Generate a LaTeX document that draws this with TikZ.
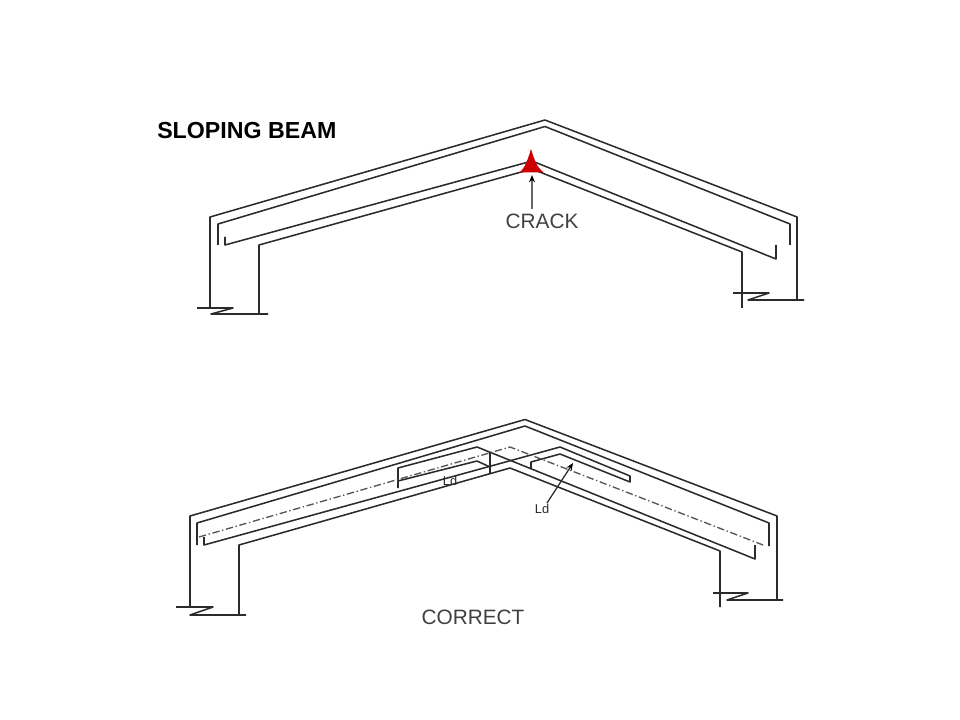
\documentclass[tikz,border=0pt]{standalone}
\usepackage{fontspec}
\setmainfont{Liberation Sans}
\usetikzlibrary{arrows.meta}
\definecolor{ink}{HTML}{2B2B2B}
\definecolor{txt}{HTML}{404040}
\tikzset{
  frameline/.style={draw=ink,line width=1.15pt,line join=round},
  centreline/.style={draw=ink!80,line width=1pt,dash pattern=on 5.5pt off 2pt on 1pt off 2pt},
  pointer/.style={draw=#1,line width=0.95pt,-{Stealth[length=5.5pt,width=4.5pt,color=black]}},
  label/.style={inner sep=0pt,text=txt,font=\fontsize{15.6}{18}\selectfont},
  smalllabel/.style={inner sep=0pt,text=ink,font=\fontsize{9.6}{11}\selectfont}
}
\begin{document}
\begin{tikzpicture}[x=0.75pt,y=-0.75pt]
\useasboundingbox (0,0) rectangle (960,720);
\fill[white] (0,0) rectangle (960,720);
% upper frame
\draw[frameline] (210,308) -- (210,217) -- (545,120) -- (797,217) -- (797,300);
\draw[frameline] (218,245) -- (218,224) -- (545,126.5) -- (790,224) -- (790,245);
\draw[frameline] (225,237) -- (225,245) -- (532,161) -- (776,259) -- (776,245);
\draw[frameline] (259,314) -- (259,245) -- (532,169) -- (742,252) -- (742,308);
\draw[frameline] (197,308) -- (233,308) -- (211,314) -- (268,314);
\draw[frameline] (733,293) -- (769,293) -- (748,300) -- (804,300);
\fill[red!80!black] (531,149) .. controls (534,159) and (537,168) .. (544,172.5) -- (519.5,172.5) .. controls (525,168) and (528,159) .. (531,149) -- cycle;
\coordinate (crackfoot) at (532,209);
\coordinate (cracktip) at (532,175);
\draw[pointer=black!60] (crackfoot) -- (cracktip);
\node[inner sep=0pt,text=black,font=\bfseries\fontsize{17.4}{20}\selectfont,anchor=west] (title) at (157,131) {SLOPING BEAM};
\node[label] (crack) at (542,221) {CRACK};
% lower frame
\draw[frameline] (190,607) -- (190,516) -- (525,419.5) -- (777,516) -- (777,600);
\draw[frameline] (197,545) -- (197,523) -- (525,426) -- (769,523) -- (769,546);
\draw[frameline] (239,615) -- (239,545) -- (510,468) -- (720,551) -- (720,607);
\draw[frameline] (176,607) -- (213,607) -- (190,615) -- (246,615);
\draw[frameline] (713,593) -- (748,593) -- (727,600) -- (783,600);
% lapped bars
\draw[frameline] (204,537) -- (204,545) -- (560,447) -- (630,476) -- (630,482) -- (560,454) -- (531,462) -- (531,469);
\draw[frameline] (755,545) -- (755,559) -- (477,447) -- (398,468) -- (398,488);
\draw[frameline] (398,481) -- (477,461) -- (490,467);
\draw[frameline] (490,453) -- (490,474);
\draw[centreline] (199,537) -- (510,447) -- (763,545);
\coordinate (ldfoot) at (547,503);
\coordinate (ldtip) at (573,463);
\draw[pointer=ink] (ldfoot) -- (ldtip);
\node[smalllabel] (ldleft) at (450,481) {Ld};
\node[smalllabel] (ldright) at (542,509) {Ld};
\node[label] (correct) at (473,617) {CORRECT};
\end{tikzpicture}
\end{document}
